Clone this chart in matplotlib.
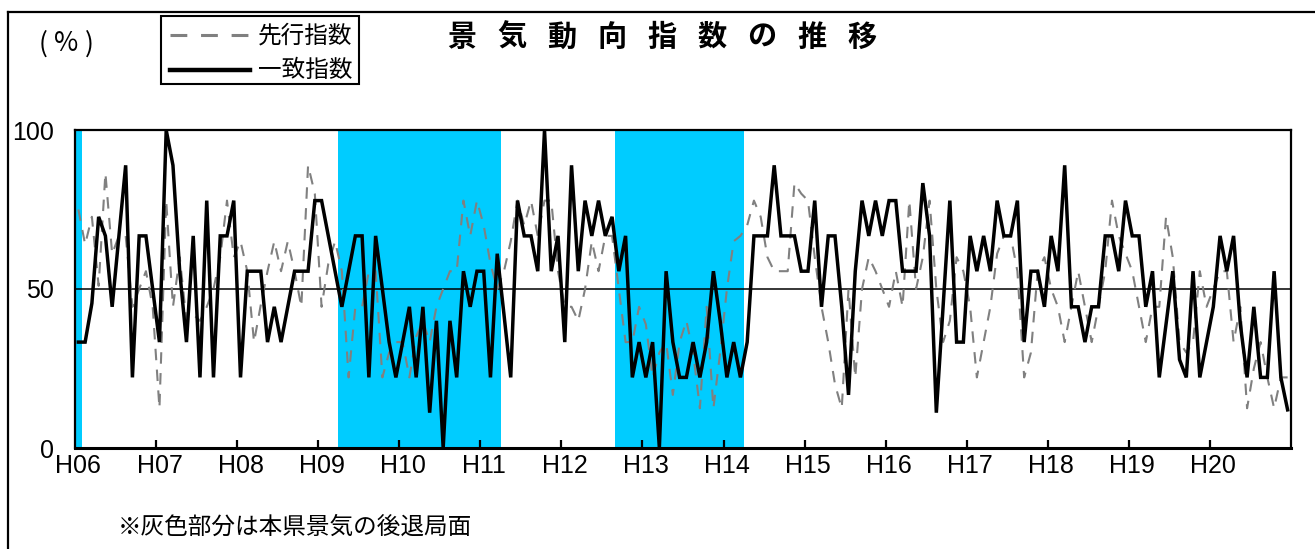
import matplotlib
matplotlib.use("Agg")
import matplotlib.pyplot as plt
from matplotlib.lines import Line2D
from matplotlib.patches import Rectangle

plt.rcParams['font.family'] = ['Noto Sans CJK JP', 'DejaVu Sans']
NUM_FONT = ['Liberation Sans Narrow', 'Liberation Sans', 'DejaVu Sans']

# monthly diffusion index, H06.01 - H20.12 (%)
coincident = [
    33.3, 33.3, 45.5, 72.7, 66.7, 44.4, 66.7, 88.9, 22.2, 66.7, 66.7, 50.0,
    33.3, 100, 88.9, 55.6, 33.3, 66.7, 22.2, 77.8, 22.2, 66.7, 66.7, 77.8,
    22.2, 55.6, 55.6, 55.6, 33.3, 44.4, 33.3, 44.4, 55.6, 55.6, 55.6, 77.8,
    77.8, 66.7, 55.6, 44.4, 55.6, 66.7, 66.7, 22.2, 66.7, 50.0, 33.3, 22.2,
    33.3, 44.4, 22.2, 44.4, 11.1, 40.0, 0.0, 40.0, 22.2, 55.6, 44.4, 55.6,
    55.6, 22.2, 61.1, 42.0, 22.2, 77.8, 66.7, 66.7, 55.6, 100, 55.6, 66.7,
    33.3, 88.9, 55.6, 77.8, 66.7, 77.8, 66.7, 72.7, 55.6, 66.7, 22.2, 33.3,
    22.2, 33.3, 0.0, 55.6, 33.3, 22.2, 22.2, 33.3, 22.2, 33.3, 55.6, 40.0,
    22.2, 33.3, 22.2, 33.3, 66.7, 66.7, 66.7, 88.9, 66.7, 66.7, 66.7, 55.6,
    55.6, 77.8, 44.4, 66.7, 66.7, 44.4, 16.7, 55.6, 77.8, 66.7, 77.8, 66.7,
    77.8, 77.8, 55.6, 55.6, 55.6, 83.3, 66.7, 11.1, 44.4, 77.8, 33.3, 33.3,
    66.7, 55.6, 66.7, 55.6, 77.8, 66.7, 66.7, 77.8, 33.3, 55.6, 55.6, 44.4,
    66.7, 55.6, 88.9, 44.4, 44.4, 33.3, 44.4, 44.4, 66.7, 66.7, 55.6, 77.8,
    66.7, 66.7, 44.4, 55.6, 22.2, 38.9, 55.6, 27.8, 22.2, 55.6, 22.2, 33.3,
    44.4, 66.7, 55.6, 66.7, 38.9, 22.2, 44.4, 22.2, 22.2, 55.6, 22.2, 12.0,
]
leading = [
    75.0, 64.0, 72.7, 51.0, 86.5, 61.0, 66.7, 66.7, 44.4, 50.0, 55.6, 44.4,
    12.5, 77.8, 44.4, 60.0, 40.0, 42.0, 40.0, 44.4, 50.0, 60.0, 77.8, 60.0,
    65.0, 55.6, 33.3, 45.0, 55.6, 65.0, 55.6, 65.0, 55.6, 44.4, 88.9, 80.0,
    44.4, 58.0, 65.0, 55.6, 22.2, 44.4, 44.4, 55.6, 55.6, 22.2, 30.0, 33.3,
    33.3, 22.2, 35.0, 40.0, 33.3, 44.4, 50.0, 55.6, 55.6, 77.8, 66.7, 77.8,
    70.0, 58.0, 50.0, 55.6, 65.0, 77.8, 70.0, 77.8, 66.7, 77.8, 77.8, 55.6,
    44.4, 44.4, 40.0, 50.0, 65.0, 55.6, 66.7, 66.7, 50.0, 33.3, 33.3, 44.4,
    38.9, 22.2, 30.0, 33.3, 16.7, 33.3, 40.0, 30.0, 12.5, 44.4, 12.5, 30.0,
    50.0, 65.0, 66.7, 70.0, 77.8, 72.7, 60.0, 55.6, 55.6, 55.6, 83.3, 80.0,
    77.8, 60.0, 44.4, 33.3, 20.0, 12.5, 50.0, 22.2, 50.0, 60.0, 55.6, 50.0,
    44.4, 55.6, 44.4, 77.8, 50.0, 60.0, 77.8, 50.0, 33.3, 40.0, 60.0, 55.6,
    44.4, 22.2, 33.3, 44.4, 61.1, 66.7, 66.7, 55.6, 22.2, 30.0, 55.6, 60.0,
    50.0, 44.4, 33.3, 44.4, 55.6, 44.4, 33.3, 44.4, 55.6, 77.8, 66.7, 61.1,
    55.6, 44.4, 33.3, 44.4, 44.4, 72.7, 60.0, 33.3, 30.0, 33.3, 55.6, 44.4,
    50.0, 55.6, 55.6, 33.3, 44.4, 12.5, 25.0, 33.3, 22.2, 12.5, 22.2, 22.2,
]
year_labels = ['H06', 'H07', 'H08', 'H09', 'H10', 'H11', 'H12',
               'H13', 'H14', 'H15', 'H16', 'H17', 'H18', 'H19', 'H20']
# recession phases as (first month, last month) indexes
recessions = [(0, 0), (39, 62), (80, 98)]

W, H = 1315, 549
fig = plt.figure(figsize=(W / 100, H / 100), dpi=100)


def fx(px):
    return px / W


def fy(py):
    return 1 - py / H


ax = fig.add_axes([fx(75), fy(448), fx(1291) - fx(75), fy(130) - fy(448)])
months = list(range(len(coincident)))

for a, b in recessions:
    ax.axvspan(a - 0.5, b + 0.5, color='#00CCFF', lw=0, zorder=0)
ax.axhline(50, color='black', lw=1.1, zorder=1)
ax.plot(months, leading, color='#808080', lw=1.5, dashes=(5.5, 4.5), zorder=2)
ax.plot(months, coincident, color='black', lw=2.5, zorder=3,
        solid_joinstyle='miter')

ax.set_xlim(-0.5, len(months) - 0.5)
ax.set_ylim(0, 100)
ax.set_yticks([0, 50, 100])
ax.set_yticklabels(['0', '50', '100'], family=NUM_FONT, fontsize=18)
ax.tick_params(axis='y', length=0, pad=15)

ax.set_xticks([12 * k for k in range(len(year_labels))])
ax.set_xticklabels(year_labels, family=NUM_FONT, fontsize=18)
ax.set_xticks([12 * k - 0.5 for k in range(1, len(year_labels))], minor=True)
ax.tick_params(axis='x', which='major', length=0, pad=4)
ax.tick_params(axis='x', which='minor', direction='in', length=6, width=1.6)

for side in ['left', 'top', 'right']:
    ax.spines[side].set_linewidth(1.6)
ax.spines['bottom'].set_linewidth(2.2)

# outer frame (top and left edges)
fig.add_artist(Line2D([fx(8), 1], [fy(12), fy(12)], color='black', lw=1.6))
fig.add_artist(Line2D([fx(8), fx(8)], [fy(12), 0], color='black', lw=1.6))

# title with spaced characters
title = '景気動向指数の推移'
for k, ch in enumerate(title):
    fig.text(fx(462 + 50 * k), fy(37), ch, ha='center', va='center',
             fontsize=21, fontweight='bold')

# unit label, parentheses set apart like full-width forms
for px, ch in [(43, '('), (66, '%'), (89, ')')]:
    fig.text(fx(px), fy(44), ch, ha='center', va='center', fontsize=19)

# legend box
fig.add_artist(Rectangle((fx(161), fy(84)), fx(359) - fx(161), fy(16) - fy(84),
                         fill=False, ec='black', lw=1.5))
fig.add_artist(Line2D([fx(170), fx(250)], [fy(35), fy(35)], color='#808080',
                      lw=2.2, dashes=(5.5, 4.5)))
fig.add_artist(Line2D([fx(170), fx(250)], [fy(70), fy(70)], color='black',
                      lw=3.2))
fig.text(fx(258), fy(36), '先行指数', ha='left', va='center', fontsize=17)
fig.text(fx(258), fy(70), '一致指数', ha='left', va='center', fontsize=17)

fig.text(fx(118), fy(527), '※灰色部分は本県景気の後退局面', ha='left',
         va='center', fontsize=17)

fig.savefig('out.png', dpi=100)
